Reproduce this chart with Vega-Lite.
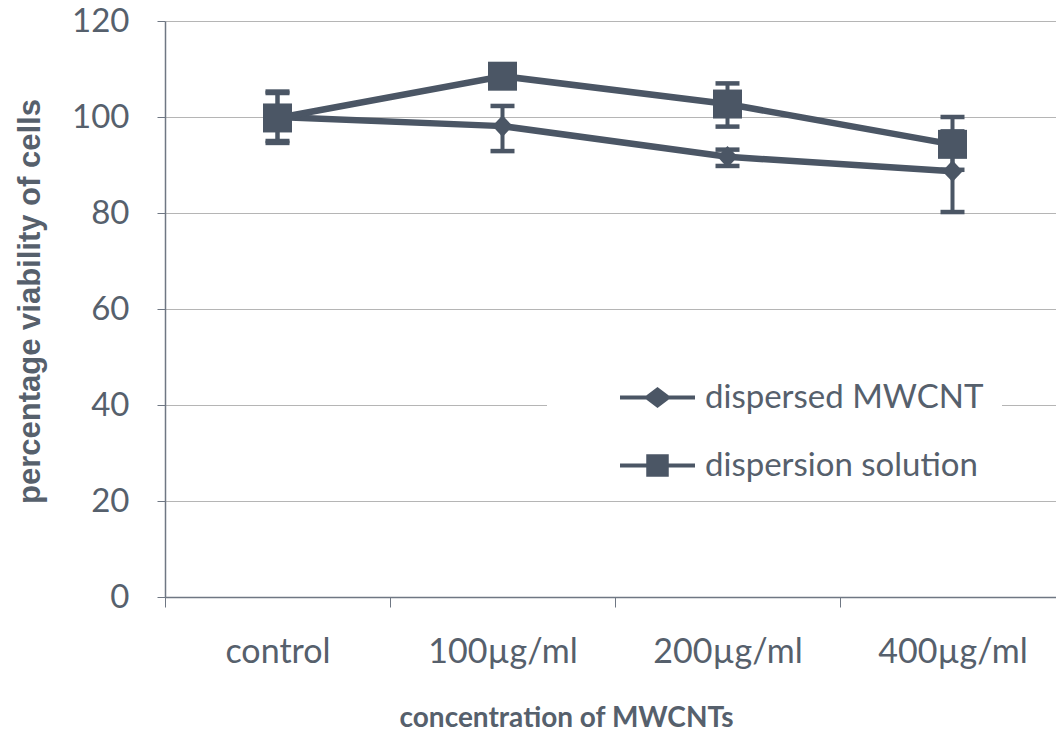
{
  "$schema": "https://vega.github.io/schema/vega-lite/v6.json",
  "width": 891,
  "height": 576,
  "autosize": {"type": "none"},
  "padding": {"left": 165, "top": 21, "right": 0, "bottom": 143},
  "background": "white",
  "config": {
    "view": {"stroke": null},
    "font": "Lato",
    "axis": {"labelColor": "#56606c", "titleColor": "#56606c", "domainColor": "#6f7783", "tickColor": "#6f7783"}
  },
  "data": {
    "values": [
      {"conc": "control", "series": "dispersed MWCNT", "value": 100, "lo": 95, "hi": 105},
      {"conc": "100µg/ml", "series": "dispersed MWCNT", "value": 98.1, "lo": 92.9, "hi": 102.3},
      {"conc": "200µg/ml", "series": "dispersed MWCNT", "value": 91.7, "lo": 89.8, "hi": 93.2},
      {"conc": "400µg/ml", "series": "dispersed MWCNT", "value": 88.7, "lo": 80.2, "hi": 97},
      {"conc": "control", "series": "dispersion solution", "value": 99.8, "lo": 94.6, "hi": 105.3},
      {"conc": "100µg/ml", "series": "dispersion solution", "value": 108.5, "lo": 107, "hi": 110},
      {"conc": "200µg/ml", "series": "dispersion solution", "value": 102.7, "lo": 98, "hi": 107},
      {"conc": "400µg/ml", "series": "dispersion solution", "value": 94.3, "lo": 89, "hi": 100}
    ]
  },
  "encoding": {
    "x": {
      "field": "conc", "type": "nominal",
      "sort": ["control", "100µg/ml", "200µg/ml", "400µg/ml"],
      "scale": {"range": [0, 900], "paddingInner": 0, "paddingOuter": 0},
      "axis": {
        "title": "concentration of MWCNTs", "labelAngle": 0, "tickBand": "extent",
        "labelFontSize": 34, "labelPadding": 28, "tickSize": 10, "domainWidth": 1.5,
        "titleFontSize": 28, "titleFontWeight": "bold", "titleX": 401, "titleY": 121,
        "titleAlign": "center", "titleBaseline": "middle", "titleAnchor": null
      }
    }
  },
  "resolve": {"scale": {"shape": "independent"}},
  "layer": [
    {
      "mark": {"type": "rule", "strokeWidth": 4, "color": "#4b5665"},
      "encoding": {
        "y": {"field": "lo", "type": "quantitative"},
        "y2": {"field": "hi"},
        "detail": {"field": "series"}
      }
    },
    {
      "mark": {"type": "tick", "thickness": 4.5, "size": 24, "color": "#4b5665", "orient": "horizontal", "opacity": 1},
      "encoding": {"y": {"field": "lo", "type": "quantitative"}}
    },
    {
      "mark": {"type": "tick", "thickness": 4.5, "size": 24, "color": "#4b5665", "orient": "horizontal", "opacity": 1},
      "encoding": {"y": {"field": "hi", "type": "quantitative"}}
    },
    {
      "mark": {"type": "line", "strokeWidth": 6.5, "color": "#4b5665"},
      "encoding": {
        "y": {"field": "value", "type": "quantitative"},
        "detail": {"field": "series"}
      }
    },
    {
      "mark": {"type": "point", "filled": true, "opacity": 0, "color": "#4b5665"},
      "encoding": {
        "y": {"field": "value", "type": "quantitative"},
        "shape": {
          "field": "series", "type": "nominal",
          "scale": {"domain": ["dispersed MWCNT", "dispersion solution"], "range": [
            "M-1,-0.053L-0.3,-0.053L0,-0.28L0.3,-0.053L1,-0.053L1,0.053L0.3,0.053L0,0.28L-0.3,0.053L-1,0.053Z",
            "M-1,-0.053L-0.3,-0.053L-0.3,-0.3L0.3,-0.3L0.3,-0.053L1,-0.053L1,0.053L0.3,0.053L0.3,0.3L-0.3,0.3L-0.3,0.053L-1,0.053Z"
          ]},
          "legend": {
            "title": null, "orient": "none", "legendX": 382, "legendY": 321,
            "fillColor": "white", "padding": 18, "strokeColor": null,
            "labelFontSize": 33, "labelColor": "#56606c", "labelOffset": 10, "labelLimit": 500,
            "symbolSize": 5625, "symbolFillColor": "#4b5665", "symbolStrokeWidth": 0, "symbolOpacity": 1,
            "symbolOffset": 55,
            "rowPadding": 13
          }
        }
      }
    },
    {
      "mark": {"type": "point", "filled": true, "opacity": 1, "color": "#4b5665", "size": 840},
      "encoding": {
        "y": {
          "field": "value", "type": "quantitative",
          "scale": {"domain": [0, 120], "nice": false, "zero": true},
          "axis": {
            "title": "percentage viability of cells", "values": [0, 20, 40, 60, 80, 100, 120],
            "labelFontSize": 33, "labelPadding": 28, "tickSize": 8, "domainWidth": 1.5,
            "grid": true, "gridColor": "#b5b5b5", "gridWidth": 1.2,
            "titleFontSize": 31, "titleFontWeight": "bold", "titleFont": "Liberation Sans",
            "titleX": -135, "titleY": 280, "titleAlign": "center", "titleBaseline": "middle", "titleAngle": -90, "titleAnchor": null
          }
        },
        "shape": {
          "field": "series", "type": "nominal",
          "scale": {"domain": ["dispersed MWCNT", "dispersion solution"], "range": ["M0,-0.75L0.7,0L0,0.75L-0.7,0Z", "square"]},
          "legend": null
        }
      }
    }
  ]
}
